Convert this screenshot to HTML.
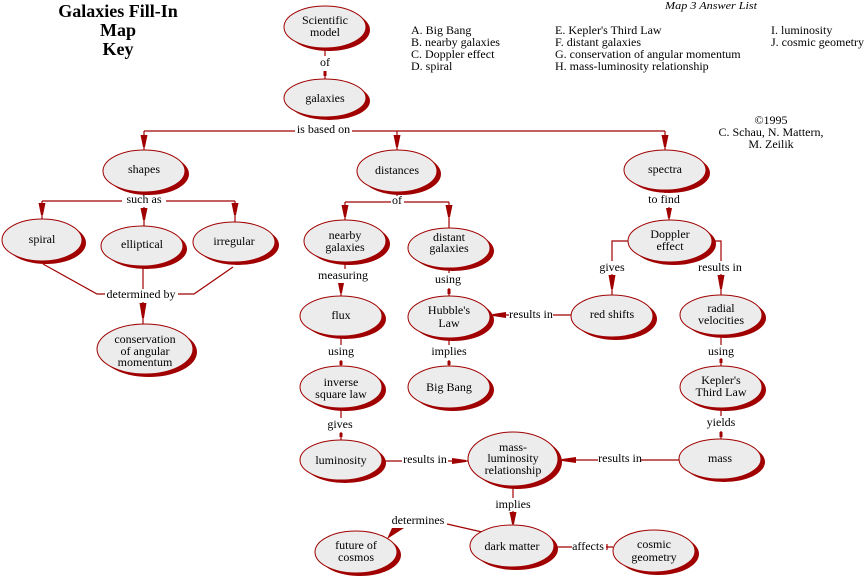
<!DOCTYPE html>
<html><head><meta charset="utf-8"><style>
html,body{margin:0;padding:0;background:#fff;}
svg{display:block;}
</style></head><body>
<svg width="865" height="578" viewBox="0 0 865 578" xmlns="http://www.w3.org/2000/svg" font-family="'Liberation Serif', serif" font-size="12">
<rect width="865" height="578" fill="#fff"/>
<!-- title -->
<g font-weight="bold" font-size="18" text-anchor="middle" fill="#000">
<text x="118" y="17">Galaxies Fill-In</text>
<text x="118" y="36">Map</text>
<text x="118" y="55">Key</text>
</g>
<!-- answer list -->
<text x="665" y="9" font-style="italic" font-size="11" textLength="92" lengthAdjust="spacingAndGlyphs">Map 3 Answer List</text>
<g fill="#000">
<text x="411" y="34">A. Big Bang</text>
<text x="411" y="46">B. nearby galaxies</text>
<text x="411" y="58">C. Doppler effect</text>
<text x="411" y="70">D. spiral</text>
<text x="555" y="34">E. Kepler's Third Law</text>
<text x="555" y="46">F. distant galaxies</text>
<text x="555" y="58">G. conservation of angular momentum</text>
<text x="555" y="70">H. mass-luminosity relationship</text>
<text x="771" y="34">I. luminosity</text>
<text x="771" y="46">J. cosmic geometry</text>
</g>
<g text-anchor="middle">
<text x="771" y="124">©1995</text>
<text x="771" y="136">C. Schau, N. Mattern,</text>
<text x="771" y="148">M. Zeilik</text>
</g>
<!-- connectors -->
<g stroke="#a00000" stroke-width="1.2" fill="none">
<path d="M325 48V56M325 71V79"/>
<path d="M144 131H295M352 131H665M144 131V151M397 131V151M665 131V150"/>
<path d="M144 192V195M42 201H122M166 201H235M42 201V219M235 201V222M144 207V226"/>
<path d="M43 264L97 294H105M178 294H194L233 267M143 267V289M143 302V324"/>
<path d="M397 192V196M345 202H391M404 202H449M345 202V220M449 202V228"/>
<path d="M345 262V269M341 283V296"/>
<path d="M449 268V273M449 288V296"/>
<path d="M449 338V345M449 360V367"/>
<path d="M341 336V345M341 360V367"/>
<path d="M341 408V418M341 432V440"/>
<path d="M383 461H402M448 461H468"/>
<path d="M679 460H641M598 460H560"/>
<path d="M572 315H553M509 315H492"/>
<path d="M665 190V193M669 207V220"/>
<path d="M628 241H612V261M612 274V295"/>
<path d="M712 241H721V261M721 274V295"/>
<path d="M721 335V345M721 358V367"/>
<path d="M721 408V416M721 431V439"/>
<path d="M513 487V498M513 511V526"/>
<path d="M482 532L447 524"/>
<path d="M555 547H572M606 547H613M607 544V550"/>
</g>
<!-- arrowheads -->
<g fill="#a00000">
<polygon points="140.5,135 147.5,135 145,147 143,147"/>
<polygon points="393.5,135 400.5,135 398,147 396,147"/>
<polygon points="661.5,135 668.5,135 666,147 664,147"/>
<polygon points="38.5,203 45.5,203 43,215 41,215"/>
<polygon points="231.5,203 238.5,203 236,215 234,215"/>
<polygon points="140.5,208 147.5,208 145,220 143,220"/>
<polygon points="139.5,303 146.5,303 144,318 142,318"/>
<polygon points="341.5,205 348.5,205 346,217 344,217"/>
<polygon points="445.5,205 452.5,205 450,217 448,217"/>
<polygon points="608.5,275 615.5,275 613,289 611,289"/>
<polygon points="717.5,275 724.5,275 722,289 720,289"/>
<polygon points="509.5,512 516.5,512 514,524 512,524"/>
<polygon points="666,208 672,208 670,218 668,218"/>
<polygon points="338,283 344,283 342,293 340,293"/>
<rect x="323.5" y="71" width="3" height="5"/>
<rect x="447.5" y="289" width="3" height="5"/>
<rect x="447.5" y="361" width="3" height="4"/>
<rect x="339.5" y="361" width="3" height="4"/>
<rect x="339.5" y="433" width="3" height="4"/>
<rect x="719.5" y="359" width="3" height="4"/>
<rect x="719.5" y="432" width="3" height="5"/>
<polygon points="452,458 452,464 466,462 466,460"/>
<polygon points="576,457 576,463 562,461 562,459"/>
<polygon points="506,312 506,318 493,316 493,314"/>
<polygon points="392,528 404,528 387,539"/>
</g>
<!-- nodes: shadow then ellipse -->
<g fill="#a00000">
<ellipse cx="329" cy="30" rx="41" ry="21"/>
<ellipse cx="329" cy="101" rx="41" ry="19"/>
<ellipse cx="148" cy="174" rx="41" ry="21"/>
<ellipse cx="401" cy="174" rx="40" ry="21"/>
<ellipse cx="669" cy="173" rx="41" ry="20"/>
<ellipse cx="46" cy="243" rx="40" ry="21"/>
<ellipse cx="146" cy="249" rx="41" ry="20"/>
<ellipse cx="238" cy="245" rx="41" ry="20"/>
<ellipse cx="149" cy="352" rx="48" ry="25"/>
<ellipse cx="349" cy="244" rx="41" ry="21"/>
<ellipse cx="453" cy="251" rx="41" ry="20"/>
<ellipse cx="345" cy="319" rx="41" ry="20"/>
<ellipse cx="453" cy="320" rx="41" ry="21"/>
<ellipse cx="674" cy="244" rx="42" ry="21"/>
<ellipse cx="616" cy="319" rx="41" ry="21"/>
<ellipse cx="725" cy="318" rx="41" ry="20"/>
<ellipse cx="345" cy="390" rx="41" ry="21"/>
<ellipse cx="453" cy="390" rx="41" ry="21"/>
<ellipse cx="725" cy="390" rx="41" ry="21"/>
<ellipse cx="345" cy="463" rx="41" ry="20"/>
<ellipse cx="517" cy="462" rx="45" ry="27"/>
<ellipse cx="724" cy="462" rx="41" ry="20"/>
<ellipse cx="516" cy="549" rx="42" ry="21"/>
<ellipse cx="360" cy="555" rx="41" ry="21"/>
<ellipse cx="658" cy="554" rx="41" ry="21"/>
</g>
<g fill="#ececec" stroke="#a00000" stroke-width="1">
<ellipse cx="325" cy="27" rx="41" ry="21"/>
<ellipse cx="325" cy="98" rx="41" ry="19"/>
<ellipse cx="144" cy="171" rx="41" ry="21"/>
<ellipse cx="397" cy="171" rx="40" ry="21"/>
<ellipse cx="665" cy="170" rx="41" ry="20"/>
<ellipse cx="42" cy="240" rx="40" ry="21"/>
<ellipse cx="142" cy="246" rx="41" ry="20"/>
<ellipse cx="234" cy="242" rx="41" ry="20"/>
<ellipse cx="145" cy="349" rx="48" ry="25"/>
<ellipse cx="345" cy="241" rx="41" ry="21"/>
<ellipse cx="449" cy="248" rx="41" ry="20"/>
<ellipse cx="341" cy="316" rx="41" ry="20"/>
<ellipse cx="449" cy="317" rx="41" ry="21"/>
<ellipse cx="670" cy="241" rx="42" ry="21"/>
<ellipse cx="612" cy="316" rx="41" ry="21"/>
<ellipse cx="721" cy="315" rx="41" ry="20"/>
<ellipse cx="341" cy="387" rx="41" ry="21"/>
<ellipse cx="449" cy="387" rx="41" ry="21"/>
<ellipse cx="721" cy="387" rx="41" ry="21"/>
<ellipse cx="341" cy="460" rx="41" ry="20"/>
<ellipse cx="513" cy="459" rx="45" ry="27"/>
<ellipse cx="720" cy="459" rx="41" ry="20"/>
<ellipse cx="512" cy="546" rx="42" ry="21"/>
<ellipse cx="356" cy="552" rx="41" ry="21"/>
<ellipse cx="654" cy="551" rx="41" ry="21"/>
</g>
<!-- node text -->
<g text-anchor="middle" fill="#000">
<text x="325" y="24">Scientific</text><text x="325" y="36">model</text>
<text x="325" y="102">galaxies</text>
<text x="144" y="173">shapes</text>
<text x="397" y="174">distances</text>
<text x="665" y="173">spectra</text>
<text x="42" y="243">spiral</text>
<text x="142" y="248">elliptical</text>
<text x="234" y="245">irregular</text>
<text x="145" y="343">conservation</text><text x="145" y="355">of angular</text><text x="145" y="366">momentum</text>
<text x="345" y="239">nearby</text><text x="345" y="251">galaxies</text>
<text x="449" y="241">distant</text><text x="449" y="252">galaxies</text>
<text x="341" y="319">flux</text>
<text x="449" y="314">Hubble's</text><text x="449" y="327">Law</text>
<text x="670" y="238">Doppler</text><text x="670" y="250">effect</text>
<text x="612" y="318">red shifts</text>
<text x="721" y="312">radial</text><text x="721" y="324">velocities</text>
<text x="341" y="386">inverse</text><text x="341" y="398">square law</text>
<text x="449" y="391">Big Bang</text>
<text x="721" y="384">Kepler's</text><text x="721" y="396">Third Law</text>
<text x="341" y="464">luminosity</text>
<text x="513" y="451">mass-</text><text x="513" y="462">luminosity</text><text x="513" y="474">relationship</text>
<text x="720" y="462">mass</text>
<text x="512" y="550">dark matter</text>
<text x="356" y="549">future of</text><text x="356" y="561">cosmos</text>
<text x="654" y="548">cosmic</text><text x="654" y="561">geometry</text>
</g>
<!-- link labels -->
<g text-anchor="middle" fill="#000">
<text x="325" y="66">of</text>
<text x="323.5" y="133">is based on</text>
<text x="144" y="203">such as</text>
<text x="141" y="298">determined by</text>
<text x="397" y="204">of</text>
<text x="343" y="279">measuring</text>
<text x="448" y="283">using</text>
<text x="449" y="355">implies</text>
<text x="341" y="355">using</text>
<text x="340" y="428">gives</text>
<text x="425" y="463">results in</text>
<text x="620" y="462">results in</text>
<text x="531" y="318">results in</text>
<text x="664" y="203">to find</text>
<text x="612" y="271">gives</text>
<text x="720" y="271">results in</text>
<text x="721" y="355">using</text>
<text x="721" y="426">yields</text>
<text x="513" y="508">implies</text>
<text x="418" y="524">determines</text>
<text x="588" y="550">affects</text>
</g>
</svg>
</body></html>
